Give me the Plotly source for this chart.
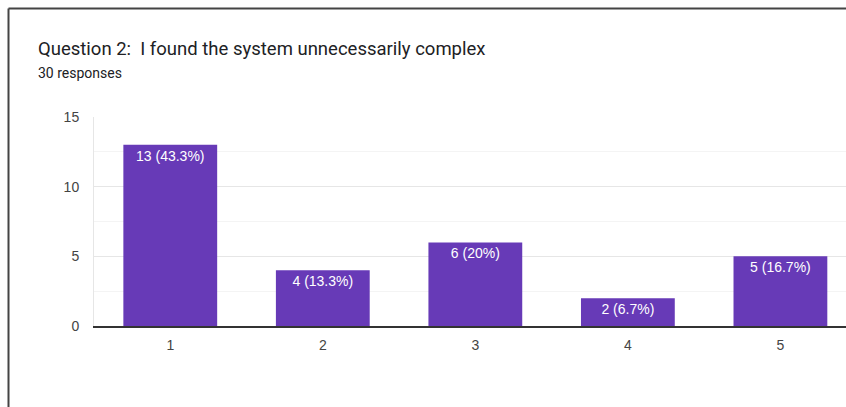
import plotly.graph_objects as go

# Survey answers for question 2 (scale 1-5)
categories = ["1", "2", "3", "4", "5"]
counts = [13, 4, 6, 2, 5]
total_responses = 30
y_ticks = [0, 5, 10, 15]

title_text = "Question 2:  I found the system unnecessarily complex"
subtitle_text = f"{total_responses} responses"


def pct_label(c, total):
    p = f"{100 * c / total:.1f}".rstrip("0").rstrip(".")
    return f"{c} ({p}%)"


labels = [pct_label(c, total_responses) for c in counts]

W, H = 846, 407
ML, MR, MT, MB = 94, 0, 117, 81
PW, PH = W - ML - MR, H - MT - MB


def px_x(px):
    return (px - ML) / PW


def px_y(py):
    return (H - MB - py) / PH


HEAD_FONT = "Roboto, Arial, sans-serif"
CHART_FONT = "Arial, 'Liberation Sans', sans-serif"

fig = go.Figure(
    go.Bar(
        x=categories,
        y=counts,
        text=labels,
        textposition="inside",
        insidetextanchor="end",
        textangle=0,
        textfont=dict(color="white", size=14, family=CHART_FONT),
        marker=dict(color="#673ab7", line=dict(width=0)),
        hoverinfo="skip",
    )
)

fig.update_layout(
    width=W,
    height=H,
    margin=dict(l=ML, r=MR, t=MT, b=MB, pad=0),
    paper_bgcolor="white",
    plot_bgcolor="white",
    bargap=0.385,
    showlegend=False,
    font=dict(family=CHART_FONT, color="#444444", size=14),
    xaxis=dict(
        type="category",
        range=[-0.5, 4.43],
        showgrid=False,
        showline=True,
        linecolor="#333333",
        linewidth=1.5,
        ticks="outside",
        ticklen=5,
        tickcolor="rgba(0,0,0,0)",
        tickfont=dict(size=14, color="#444444", family=CHART_FONT),
        fixedrange=True,
    ),
    yaxis=dict(
        range=[0, 15],
        tickvals=y_ticks,
        showgrid=True,
        gridcolor="#e6e6e6",
        gridwidth=1,
        zeroline=False,
        showline=True,
        linecolor="#e6e6e6",
        linewidth=1,
        ticks="outside",
        ticklen=11,
        tickcolor="rgba(0,0,0,0)",
        tickfont=dict(size=14, color="#444444", family=CHART_FONT),
        minor=dict(dtick=2.5, showgrid=True, gridcolor="#f4f4f4", ticks=""),
        fixedrange=True,
    ),
    annotations=[
        dict(
            text=title_text,
            x=px_x(36), y=px_y(49),
            xref="paper", yref="paper",
            xanchor="left", yanchor="middle",
            showarrow=False,
            font=dict(size=18.5, color="#202124", family=HEAD_FONT),
        ),
        dict(
            text=subtitle_text,
            x=px_x(36), y=px_y(73),
            xref="paper", yref="paper",
            xanchor="left", yanchor="middle",
            showarrow=False,
            font=dict(size=14, color="#202124", family=HEAD_FONT),
        ),
    ],
    shapes=[
        # card frame: top and left edges
        dict(type="line", xref="paper", yref="paper",
             x0=px_x(8.5), x1=px_x(W + 2), y0=px_y(8.5), y1=px_y(8.5),
             line=dict(color="#444444", width=2)),
        dict(type="line", xref="paper", yref="paper",
             x0=px_x(8.5), x1=px_x(8.5), y0=px_y(8.5), y1=px_y(H + 2),
             line=dict(color="#444444", width=2)),
    ],
)

fig.write_html("out.html", config={"displayModeBar": False})
